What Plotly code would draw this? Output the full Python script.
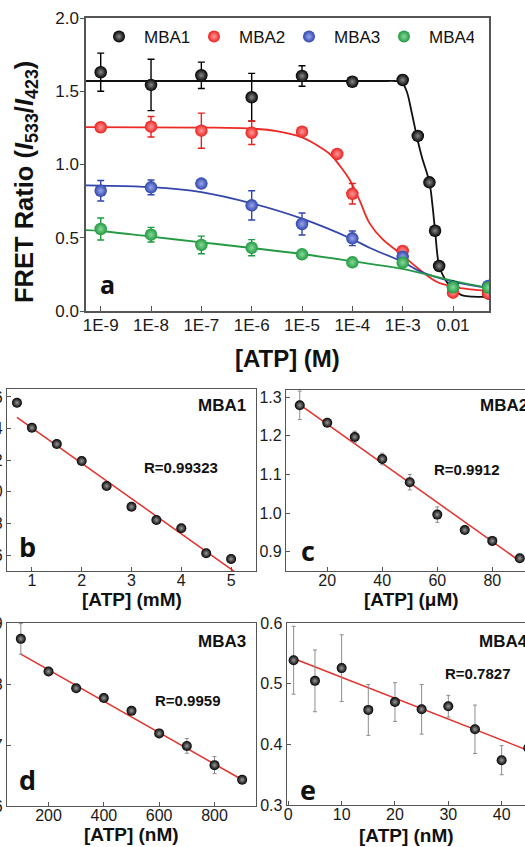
import plotly.graph_objects as go

W, H = 525, 847

# ---------------- panel a : FRET ratio vs [ATP] for the four probes ----------------
mba1_x = [1e-9, 1e-8, 1e-7, 1e-6, 1e-5, 1e-4, 1e-3, 2e-3, 3.4e-3, 4.4e-3, 5.3e-3, 1e-2, 5e-2]
mba1_y = [1.63, 1.543, 1.609, 1.459, 1.604, 1.565, 1.577, 1.195, 0.878, 0.548, 0.307, 0.166, 0.12]
mba1_err = [0.13, 0.175, 0.09, 0.163, 0.07, 0.03, 0.03, 0.015, 0.015, 0.015, 0.015, 0.01, 0.01]

mba2_x = [1e-9, 1e-8, 1e-7, 1e-6, 1e-5, 5e-5, 1e-4, 1e-3, 1e-2, 5e-2]
mba2_y = [1.254, 1.258, 1.231, 1.217, 1.224, 1.072, 0.80, 0.41, 0.125, 0.12]
mba2_err = [0.03, 0.07, 0.12, 0.08, 0.02, 0.01, 0.07, 0.02, 0.01, 0.01]

mba3_x = [1e-9, 1e-8, 1e-7, 1e-6, 1e-5, 1e-4, 1e-3, 1e-2, 5e-2]
mba3_y = [0.821, 0.844, 0.87, 0.721, 0.594, 0.496, 0.37, 0.166, 0.171]
mba3_err = [0.07, 0.05, 0.0, 0.1, 0.075, 0.05, 0.02, 0.01, 0.01]

mba4_x = [1e-9, 1e-8, 1e-7, 1e-6, 1e-5, 1e-4, 1e-3, 1e-2, 5e-2]
mba4_y = [0.56, 0.521, 0.451, 0.432, 0.387, 0.332, 0.33, 0.162, 0.16]
mba4_err = [0.075, 0.05, 0.06, 0.055, 0.015, 0.02, 0.02, 0.01, 0.01]

# fitted dose-response curves (sampled along the fit)
fit1_x = [5e-10, 1e-6, 1e-4, 5e-4, 7e-4, 9.5e-4, 1.2e-3, 1.5e-3, 1.9e-3, 2.4e-3, 3.4e-3,
          3.9e-3, 4.4e-3, 5.3e-3, 6.4e-3, 8e-3, 1e-2, 1.3e-2, 1.6e-2, 2.5e-2, 5.5e-2]
fit1_y = [1.57, 1.57, 1.57, 1.57, 1.57, 1.563, 1.50, 1.36, 1.195, 1.053, 0.878,
          0.724, 0.548, 0.307, 0.24, 0.185, 0.155, 0.12, 0.105, 0.098, 0.097]

fit2_x = [5e-10, 1e-7, 1e-6, 3.16e-6, 1e-5, 1.95e-5, 3.63e-5, 5.69e-5, 8.9e-5, 1.38e-4,
          2.19e-4, 3.98e-4, 1e-3, 2.21e-3, 4.73e-3, 1e-2, 2.19e-2, 5.5e-2]
fit2_y = [1.255, 1.252, 1.245, 1.228, 1.185, 1.133, 1.07, 0.99, 0.894, 0.758,
          0.60, 0.49, 0.38, 0.28, 0.20, 0.166, 0.148, 0.139]

fit3_x = [5e-10, 1e-9, 1e-8, 1e-7, 1e-6, 1e-5, 1e-4, 2.24e-4, 1e-3, 2.2e-3, 1e-2, 5.5e-2]
fit3_y = [0.858, 0.856, 0.846, 0.812, 0.735, 0.63, 0.49, 0.43, 0.335, 0.27, 0.2, 0.155]

fit4_x = [5e-10, 1e-9, 1e-8, 1e-7, 1e-6, 1e-5, 1e-4, 2.24e-4, 1e-3, 1e-2, 5.5e-2]
fit4_y = [0.552, 0.546, 0.507, 0.469, 0.43, 0.389, 0.34, 0.322, 0.287, 0.205, 0.155]

a_tickvals = [1e-9, 1e-8, 1e-7, 1e-6, 1e-5, 1e-4, 1e-3, 1e-2]
a_ticktext = ["1E-9", "1E-8", "1E-7", "1E-6", "1E-5", "1E-4", "1E-3", "0.01"]

# ---------------- panels b-e : linear ranges ----------------
b_x = [0.7, 1, 1.5, 2, 2.5, 3, 3.5, 4, 4.5, 5]
b_y = [1.563, 1.405, 1.302, 1.195, 1.037, 0.906, 0.822, 0.770, 0.612, 0.576]
b_err = [0.025, 0.01, 0.01, 0.01, 0.01, 0.01, 0.01, 0.01, 0.01, 0.025]
b_fit_x = [0.7, 5.1]
b_fit_y = [1.471, 0.489]

c_x = [10, 20, 30, 40, 50, 60, 70, 80, 90]
c_y = [1.279, 1.234, 1.197, 1.140, 1.080, 0.996, 0.956, 0.928, 0.883]
c_err = [0.037, 0.008, 0.015, 0.015, 0.02, 0.02, 0.008, 0.01, 0.005]
c_fit_x = [10, 90.3]
c_fit_y = [1.281, 0.874]

d_x = [100, 200, 300, 400, 500, 600, 700, 800, 900]
d_y = [0.874, 0.8205, 0.793, 0.777, 0.756, 0.719, 0.6985, 0.667, 0.643]
d_err = [0.025, 0.006, 0.004, 0.004, 0.004, 0.006, 0.012, 0.014, 0.004]
d_fit_x = [100, 900]
d_fit_y = [0.849, 0.643]

e_x = [1, 5, 10, 15, 20, 25, 30, 35, 40, 45]
e_y = [0.539, 0.505, 0.526, 0.457, 0.47, 0.458, 0.463, 0.425, 0.374, 0.394]
e_err = [0.056, 0.051, 0.055, 0.042, 0.032, 0.041, 0.018, 0.04, 0.024, 0.02]
e_fit_x = [1, 45]
e_fit_y = [0.542, 0.390]

series_names = ["MBA1", "MBA2", "MBA3", "MBA4"]
edge_colors = ["#000000", "#e8221f", "#2f45ad", "#1f9a40"]
glow_colors = ["#8a8a8a", "#ff9a9a", "#9aa6ea", "#8ad89a"]
line_colors = ["#111111", "#ec2a26", "#3346ab", "#259a45"]

FONT = "Liberation Sans, Arial, Helvetica, sans-serif"
LETTER_FONT = "Open Sans, Liberation Sans, Arial, sans-serif"
FRAME = "#555555"
SUB_RED = "#e3312c"


def px(x):
    return x / W


def py(y):
    return 1 - y / H


fig = go.Figure()

# ---- panel a ----
fits = [(fit1_x, fit1_y), (fit2_x, fit2_y), (fit3_x, fit3_y), (fit4_x, fit4_y)]
for (fx, fy), lc in zip(fits, line_colors):
    fig.add_trace(go.Scatter(x=fx, y=fy, mode="lines", line=dict(color=lc, width=1.8, shape="spline"),
                             showlegend=False, hoverinfo="skip", xaxis="x", yaxis="y"))

points = [(mba1_x, mba1_y, mba1_err), (mba2_x, mba2_y, mba2_err),
          (mba3_x, mba3_y, mba3_err), (mba4_x, mba4_y, mba4_err)]
for (sx, sy, se), name, ec, gc in zip(points, series_names, edge_colors, glow_colors):
    fig.add_trace(go.Scatter(
        x=sx, y=sy, mode="markers", name=name,
        marker=dict(size=12.5, color=ec, line=dict(width=0),
                    gradient=dict(type="radial", color=gc)),
        error_y=dict(type="data", array=se, visible=True, color=ec, thickness=1.4, width=3.5),
        xaxis="x", yaxis="y"))

# ---- panels b-e ----
subs = [
    (b_x, b_y, b_err, b_fit_x, b_fit_y, "x2", "y2"),
    (c_x, c_y, c_err, c_fit_x, c_fit_y, "x3", "y3"),
    (d_x, d_y, d_err, d_fit_x, d_fit_y, "x4", "y4"),
    (e_x, e_y, e_err, e_fit_x, e_fit_y, "x5", "y5"),
]
for sx, sy, se, fx, fy, xa, ya in subs:
    fig.add_trace(go.Scatter(x=fx, y=fy, mode="lines", line=dict(color=SUB_RED, width=1.5),
                             showlegend=False, hoverinfo="skip", xaxis=xa, yaxis=ya))
    fig.add_trace(go.Scatter(
        x=sx, y=sy, mode="markers", showlegend=False,
        marker=dict(size=10, color="#000000", line=dict(width=0),
                    gradient=dict(type="radial", color="#9a9a9a")),
        error_y=dict(type="data", array=se, visible=True, color="#8c8c8c", thickness=1, width=2),
        xaxis=xa, yaxis=ya))

axis_common = dict(showgrid=False, zeroline=False, showline=True, linecolor=FRAME,
                   tickcolor=FRAME, tickfont=dict(family=FONT, size=16, color="#1a1a1a"))

layout = dict(
    width=W, height=H, template="none",
    margin=dict(l=0, r=0, t=0, b=0, pad=0),
    paper_bgcolor="white", plot_bgcolor="white",
    font=dict(family=FONT, color="#111111"),
    showlegend=True,
    legend=dict(orientation="h", x=px(94), y=py(37), xanchor="left", yanchor="middle",
                font=dict(family=FONT, size=17, color="#111111"), bgcolor="rgba(0,0,0,0)",
                entrywidth=40, entrywidthmode="pixels", itemsizing="constant", itemwidth=40),
    # panel a
    xaxis=dict(axis_common, type="log", range=[-9.292, -1.285], domain=[px(86), px(489)],
               tickvals=a_tickvals, ticktext=a_ticktext, ticks="inside", ticklen=5,
               linewidth=1.5, mirror=True, anchor="y", ticklabelstandoff=-2,
               tickfont=dict(family=FONT, size=17, color="#1a1a1a")),
    yaxis=dict(axis_common, range=[0, 2.0], domain=[py(311), py(18)], tickvals=[0, 0.5, 1.0, 1.5, 2.0],
               tickformat=".1f", ticks="outside", ticklen=4, linewidth=1.5, mirror=True, anchor="x",
               ticklabelstandoff=-2, tickfont=dict(family=FONT, size=17, color="#1a1a1a")),
    # panel b
    xaxis2=dict(axis_common, range=[0.5, 5.5], domain=[px(7), px(256)], dtick=1, tick0=0,
                ticks="inside", ticklen=4, linewidth=1.2, mirror=True, anchor="y2", ticklabelstandoff=-5),
    yaxis2=dict(axis_common, range=[0.5, 1.65], domain=[py(571), py(389)], dtick=0.2, tick0=0,
                tickformat=".1f", ticks="inside", ticklen=4, linewidth=1.2, mirror=True, anchor="x2"),
    # panel c
    xaxis3=dict(axis_common, range=[5, 91.9], domain=[px(286), 1.0], dtick=20, tick0=0,
                ticks="inside", ticklen=4, linewidth=1.2, mirror=True, anchor="y3", ticklabelstandoff=-5),
    yaxis3=dict(axis_common, range=[0.85, 1.32], domain=[py(571), py(389.5)], dtick=0.1, tick0=0,
                tickformat=".1f", ticks="inside", ticklen=4, linewidth=1.2, mirror=False, anchor="x3"),
    # panel d
    xaxis4=dict(axis_common, range=[50, 950], domain=[px(7), px(256)], dtick=200, tick0=0,
                ticks="inside", ticklen=4, linewidth=1.2, mirror=True, anchor="y4", ticklabelstandoff=-5),
    yaxis4=dict(axis_common, range=[0.6, 0.9], domain=[py(806), py(623)], dtick=0.1, tick0=0,
                tickformat=".1f", ticks="inside", ticklen=4, linewidth=1.2, mirror=True, anchor="x4"),
    # panel e
    xaxis5=dict(axis_common, range=[-0.3, 44.38], domain=[px(286.7), 1.0], dtick=10, tick0=0,
                ticks="inside", ticklen=4, linewidth=1.2, mirror=True, anchor="y5", ticklabelstandoff=-5),
    yaxis5=dict(axis_common, range=[0.3, 0.6], domain=[py(805), py(623.3)], dtick=0.1, tick0=0,
                tickformat=".1f", ticks="inside", ticklen=4, linewidth=1.2, mirror=False, anchor="x5"),
)
fig.update_layout(**layout)


def note(text, x, y, size, bold=False, family=FONT, xanchor="center", angle=0, color="#111111"):
    if bold:
        text = "<b>" + text + "</b>"
    fig.add_annotation(text=text, x=px(x), y=py(y), xref="paper", yref="paper",
                       xanchor=xanchor, yanchor="middle", showarrow=False, textangle=angle,
                       font=dict(family=family, size=size, color=color))


# axis titles
note("FRET Ratio (<i>I</i><sub>533</sub>/<i>I</i><sub>423</sub>)", 26, 182, 25.5, bold=True, angle=-90)
note("[ATP] (M)", 287.5, 358, 24, bold=True)
note("[ATP] (mM)", 132, 599, 19, bold=True)
note("[ATP] (μM)", 411.7, 599, 19, bold=True)
note("[ATP] (nM)", 131.7, 834, 19, bold=True)
note("[ATP] (nM)", 406.7, 835, 19, bold=True)

# panel letters
note("a", 107, 284, 25, bold=True, family=LETTER_FONT)
note("b", 27.5, 546, 27, bold=True, family=LETTER_FONT)
note("c", 307.5, 550, 27, bold=True, family=LETTER_FONT)
note("d", 27.5, 779, 27, bold=True, family=LETTER_FONT)
note("e", 307.5, 789, 27, bold=True, family=LETTER_FONT)

# probe names and correlation coefficients
note("MBA1", 248, 405, 17, bold=True, xanchor="right")
note("MBA2", 478, 405, 17, bold=True, xanchor="left")
note("MBA3", 248, 641, 17, bold=True, xanchor="right")
note("MBA4", 477, 641, 17, bold=True, xanchor="left")
note("R=0.99323", 180.7, 468, 15, bold=True)
note("R=0.9912", 466.3, 469, 15, bold=True)
note("R=0.9959", 187.5, 700, 15, bold=True)
note("R=0.7827", 477.5, 673, 15, bold=True)

fig.write_html("out.html")
